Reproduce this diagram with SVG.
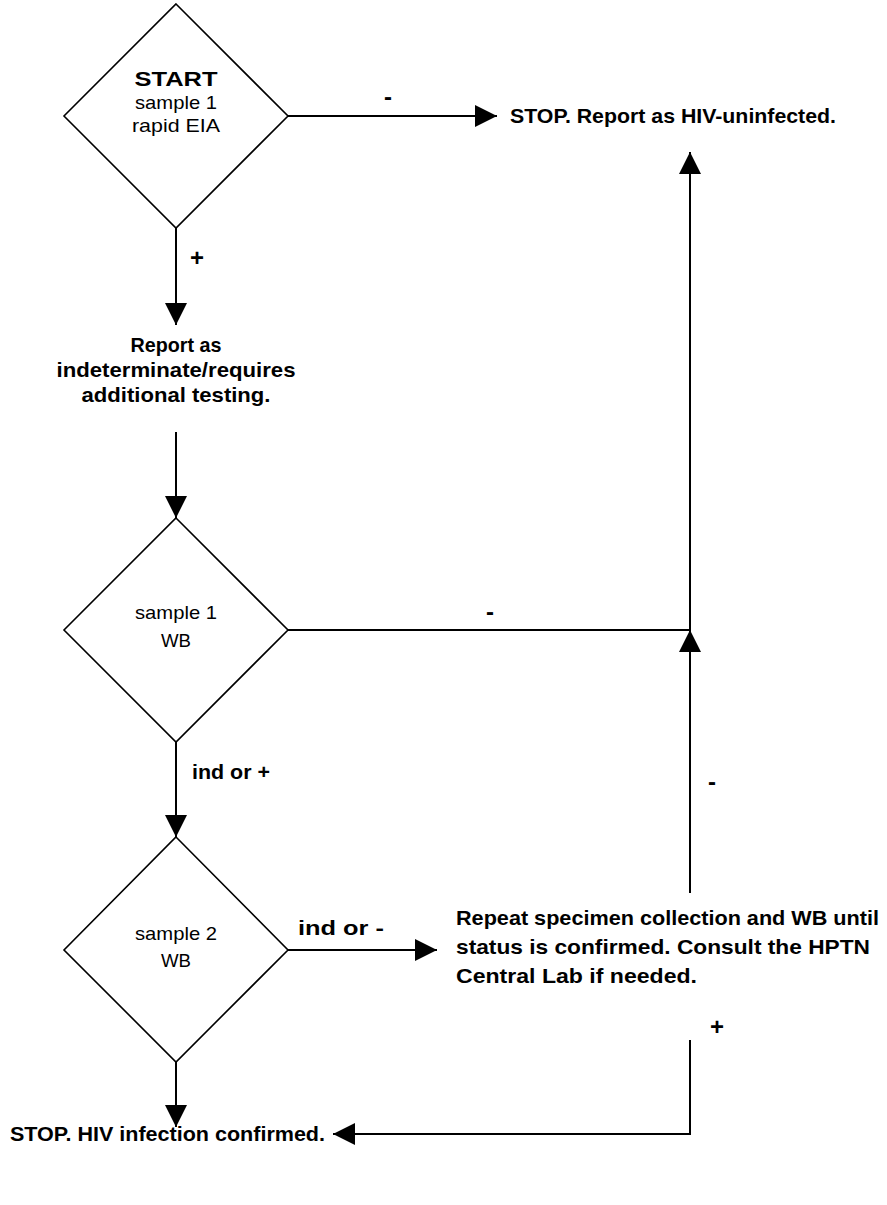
<svg xmlns="http://www.w3.org/2000/svg" width="887" height="1205" viewBox="0 0 887 1205">
<defs>
<marker id="ah" markerUnits="userSpaceOnUse" markerWidth="22" markerHeight="22" viewBox="0 0 20 20" refX="20" refY="10" orient="auto">
<path d="M0,0 L20,10 L0,20 Z" fill="#000"/>
</marker>
</defs>
<style>
.dia{fill:#fff;stroke:#000;stroke-width:1.6}
.ln{fill:none;stroke:#000;stroke-width:2}
.arr{fill:none;stroke:#000;stroke-width:2;marker-end:url(#ah)}
.n{font-family:"Liberation Sans",Arial,sans-serif;font-size:19px;fill:#000}
.b{font-family:"Liberation Sans",Arial,sans-serif;font-size:21px;font-weight:bold;fill:#000}
.s{font-family:"Liberation Sans",Arial,sans-serif;font-size:24px;font-weight:bold;fill:#000;text-anchor:middle}
.c{text-anchor:middle}
</style>
<rect width="887" height="1205" fill="#fff"/>
<g id="connectors">
<path class="arr" d="M288,116 H497"/>
<path class="arr" d="M176,228 V325"/>
<path class="arr" d="M176,432 V518"/>
<path class="ln" d="M288,630 H690"/>
<path class="arr" d="M690,893 V630"/>
<path class="arr" d="M690,630 V152"/>
<path class="arr" d="M176,742 V837"/>
<path class="arr" d="M288,950 H437"/>
<path class="arr" d="M176,1062 V1127"/>
<path class="arr" d="M690,1040 V1134 H333"/>
<text class="s" x="388" y="105">-</text>
<text class="s" x="197" y="266">+</text>
<text class="s" x="490" y="620">-</text>
<text class="b" x="192" y="779" textLength="78" lengthAdjust="spacingAndGlyphs">ind or +</text>
<text class="b" x="298" y="935" textLength="86" lengthAdjust="spacingAndGlyphs">ind or -</text>
<text class="s" x="712" y="790">-</text>
<text class="s" x="197" y="1035">+</text>
<text class="s" x="717" y="1035">+</text>
</g>
<g id="start">
<path class="dia" d="M176,4 L288,116 L176,228 L64,116 Z"/>
<text class="b c" x="176" y="86" style="font-size:20px" textLength="83" lengthAdjust="spacingAndGlyphs">START</text>
<text class="n c" x="176" y="109" textLength="82" lengthAdjust="spacingAndGlyphs">sample 1</text>
<text class="n c" x="176" y="132" textLength="88" lengthAdjust="spacingAndGlyphs">rapid EIA</text>
</g>
<g id="stop-uninfected">
<text class="b" x="510" y="123" textLength="326" lengthAdjust="spacingAndGlyphs">STOP. Report as HIV-uninfected.</text>
</g>
<g id="report-indeterminate">
<text class="b c" x="176" y="352" textLength="91" lengthAdjust="spacingAndGlyphs">Report as</text>
<text class="b c" x="176" y="377" textLength="239" lengthAdjust="spacingAndGlyphs">indeterminate/requires</text>
<text class="b c" x="176" y="402" textLength="189" lengthAdjust="spacingAndGlyphs">additional testing.</text>
</g>
<g id="sample1-wb">
<path class="dia" d="M176,518 L288,630 L176,742 L64,630 Z"/>
<text class="n c" x="176" y="619" textLength="82" lengthAdjust="spacingAndGlyphs">sample 1</text>
<text class="n c" x="176" y="647" textLength="30" lengthAdjust="spacingAndGlyphs">WB</text>
</g>
<g id="sample2-wb">
<path class="dia" d="M176,837 L288,950 L176,1062 L64,950 Z"/>
<text class="n c" x="176" y="940" textLength="82" lengthAdjust="spacingAndGlyphs">sample 2</text>
<text class="n c" x="176" y="967" textLength="30" lengthAdjust="spacingAndGlyphs">WB</text>
</g>
<g id="repeat">
<text class="b" x="456" y="925" textLength="423" lengthAdjust="spacingAndGlyphs">Repeat specimen collection and WB until</text>
<text class="b" x="456" y="954" textLength="414" lengthAdjust="spacingAndGlyphs">status is confirmed. Consult the HPTN</text>
<text class="b" x="456" y="983" textLength="241" lengthAdjust="spacingAndGlyphs">Central Lab if needed.</text>
</g>
<g id="stop-confirmed">
<text class="b" x="10" y="1141" textLength="315" lengthAdjust="spacingAndGlyphs">STOP. HIV infection confirmed.</text>
</g>
</svg>
